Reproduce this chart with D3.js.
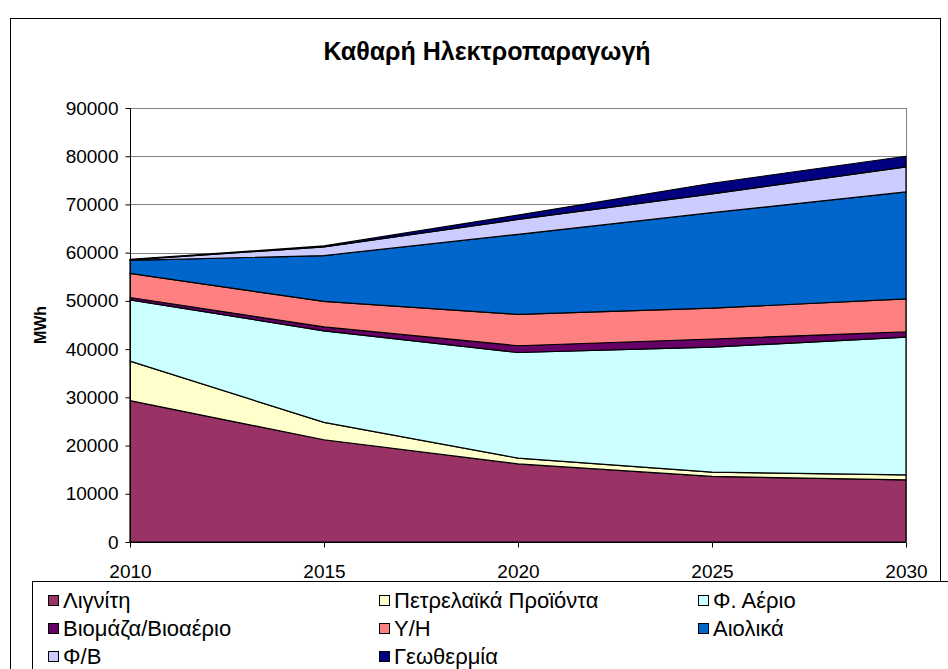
<!DOCTYPE html>
<html><head><meta charset="utf-8">
<script src="https://cdn.jsdelivr.net/npm/d3@7"></script>
<style>body{margin:0;background:#fff}svg{display:block;font-family:"Liberation Sans",Arial,sans-serif}</style>
</head><body><svg id="c" width="948" height="669"></svg>
<script>
const years = [2010, 2015, 2020, 2025, 2030];
const seriesNames = ["Λιγνίτη","Πετρελαϊκά Προϊόντα","Φ. Αέριο","Βιομάζα/Βιοαέριο","Υ/Η","Αιολικά","Φ/Β","Γεωθερμία"];
const lignite  = [29300, 21200, 16200, 13600, 12900];
const oil      = [8200, 3600, 1200, 900, 1000];
const gas      = [12700, 19000, 21900, 25900, 28600];
const biomass  = [500, 800, 1400, 1700, 1100];
const hydro    = [5000, 5300, 6500, 6400, 6800];
const wind     = [2700, 9500, 16600, 19800, 22200];
const pv       = [100, 1800, 3100, 3900, 5200];
const geo      = [100, 200, 900, 2200, 2200];
const yTicks = [0,10000,20000,30000,40000,50000,60000,70000,80000,90000];
const colors = ["#993366","#FFFFCC","#CCFFFF","#660066","#FF8080","#0066CC","#CCCCFF","#000080"];

const allSeries = [lignite, oil, gas, biomass, hydro, wind, pv, geo];
const rows = years.map((y,i)=>{const r={year:y}; seriesNames.forEach((n,k)=>r[n]=allSeries[k][i]); return r;});

const svg = d3.select("#c");
svg.append("rect").attr("x",10.5).attr("y",18.5).attr("width",930).attr("height",700)
  .attr("fill","#fff").attr("stroke","#000").attr("stroke-width",1);

const x = d3.scaleLinear().domain([2010,2030]).range([130,906]);
const y = d3.scaleLinear().domain([0,90000]).range([542,108]);

svg.append("g").selectAll("line").data(yTicks.filter(d=>d>0)).join("line")
  .attr("x1",130).attr("x2",906).attr("y1",d=>Math.round(y(d))+0.5).attr("y2",d=>Math.round(y(d))+0.5)
  .attr("stroke","#808080").attr("stroke-width",1);
svg.append("line").attr("x1",906.5).attr("x2",906.5).attr("y1",108).attr("y2",542).attr("stroke","#808080");

const stack = d3.stack().keys(seriesNames);
const layers = stack(rows);
const area = d3.area().x(d=>x(d.data.year)).y0(d=>y(d[0])).y1(d=>y(d[1]));
svg.append("g").selectAll("path").data(layers).join("path")
  .attr("d",area).attr("fill",(d,i)=>colors[i]).attr("stroke","#000").attr("stroke-width",1.2)
  .attr("stroke-linejoin","round");

const yAxis = d3.axisLeft(y).tickValues(yTicks).tickSize(5).tickPadding(7).tickFormat(d3.format("d"));
const gy = svg.append("g").attr("transform","translate(130.5,0)").call(yAxis);
gy.select(".domain").attr("stroke","#000").attr("d","M0,108V542.5");
gy.selectAll("text").attr("font-size",19).attr("fill","#000").attr("font-family","Liberation Sans, Arial, sans-serif");
const xAxis = d3.axisBottom(x).tickValues(years).tickSize(5).tickPadding(17).tickFormat(d3.format("d"));
const gx = svg.append("g").attr("transform","translate(0,542.5)").call(xAxis);
gx.select(".domain").attr("stroke","#000").attr("d","M130,0H906");
gx.selectAll("text").attr("font-size",19).attr("fill","#000").attr("font-family","Liberation Sans, Arial, sans-serif");

svg.append("text").attr("x",487).attr("y",60).attr("text-anchor","middle")
  .attr("font-size",25).attr("font-weight","bold").text("Καθαρή Ηλεκτροπαραγωγή");
svg.append("text").attr("transform","translate(46,325) rotate(-90)").attr("text-anchor","middle")
  .attr("font-size",16).attr("font-weight","bold").text("MWh");

svg.append("rect").attr("x",32.5).attr("y",581.5).attr("width",930).attr("height",120)
  .attr("fill","#fff").attr("stroke","#000");
const colX = [48, 379, 698];
const rowY = [608, 636, 664];
const lg = svg.append("g").selectAll("g").data(seriesNames).join("g")
  .attr("transform",(d,i)=>`translate(${colX[i%3]},${rowY[Math.floor(i/3)]})`);
lg.append("rect").attr("x",0.5).attr("y",-12.5).attr("width",10).attr("height",10)
  .attr("fill",(d,i)=>colors[i]).attr("stroke","#000");
lg.append("text").attr("x",15).attr("y",0).attr("font-size",22).text(d=>d);
</script></body></html>
